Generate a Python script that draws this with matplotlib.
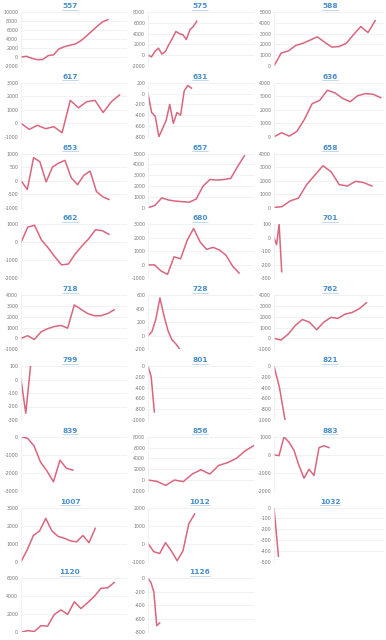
import numpy as np
import matplotlib
matplotlib.use('Agg')
import matplotlib.pyplot as plt
from matplotlib.lines import Line2D

plt.rcParams['axes.unicode_minus'] = False

# panel ids in reading order (3 per row)
ids = ['557', '575', '588', '617', '631', '636', '653', '657', '658',
       '662', '680', '701', '718', '728', '762', '799', '801', '821',
       '839', '856', '883', '1007', '1012', '1032', '1120', '1126']

s557 = [0, 150, -300, -600, -550, 300, 500, 1800, 2300, 2600, 2900, 3600, 4600, 5700, 6800, 7800, 8300]
s575 = [0, -300, 700, 1300, 200, 700, 2000, 3100, 4400, 4000, 3800, 2900, 4700, 5300, 6300]
s588 = [0, 1200, 1400, 1900, 2100, 2400, 2700, 2200, 1750, 1800, 2100, 2900, 3650, 3100, 4200]
s617 = [0, -450, -150, -400, -250, -700, 1700, 1150, 1600, 1700, 800, 1600, 2100]
s631 = [0, -350, -420, -800, -650, -500, -200, -550, -350, -400, 50, 150, 100]
s636 = [0, 300, 50, 400, 1300, 2450, 2700, 3450, 3250, 2850, 2600, 3050, 3200, 3150, 2900]
s653 = [0, -330, 850, 700, -50, 500, 650, 750, 100, -150, 200, 350, -400, -600, -700]
s657 = [0, 200, 900, 700, 600, 550, 500, 800, 2000, 2600, 2550, 2600, 2700, 3800, 4800]
s658 = [0, 80, 500, 700, 1700, 2400, 3100, 2650, 1700, 1600, 1950, 1850, 1600]
s662 = [0, 850, 950, 150, -300, -800, -1250, -1200, -650, -200, 200, 700, 650, 450]
s680 = [0, 0, -450, -700, 600, 450, 1800, 2700, 1700, 1150, 1300, 1100, 700, -100, -600]
s701 = [0, -50, 100, -250]
s718 = [0, 250, -100, 600, 900, 1100, 1200, 950, 3100, 2700, 2300, 2100, 2100, 2300, 2650]
s728 = [0, 60, 250, 560, 300, 80, -60, -120, -200]
s762 = [0, -150, 400, 1200, 1750, 1500, 800, 1500, 1950, 1850, 2250, 2400, 2750, 3300]
s799 = [0, -250, 100]
s801 = [0, -200, -850]
s821 = [0, -400, -1000]
s839 = [0, -80, -500, -1400, -1900, -2500, -1300, -1750, -1850]
s856 = [0, -250, -1000, 0, -300, 1100, 1900, 1100, 2700, 3200, 4000, 5400, 6400]
s883 = [0, -50, 1000, 700, 250, -600, -1300, -800, -1150, 400, 500, 400]
s1007 = [0, 650, 1450, 1700, 2400, 1700, 1400, 1300, 1150, 1100, 1450, 1050, 1850]
s1012 = [0, -450, -550, 50, -400, -950, -400, 1100, 1650]
s1032 = [0, -450]
s1120 = [0, 200, 100, 750, 700, 2000, 2500, 2000, 3400, 2650, 3300, 4000, 4900, 4950, 5550]
s1126 = [0, -60, -200, -700, -660]

series = [s557, s575, s588, s617, s631, s636, s653, s657, s658,
          s662, s680, s701, s718, s728, s762, s799, s801, s821,
          s839, s856, s883, s1007, s1012, s1032, s1120, s1126]

# share of the common time axis each series covers
spans = [0.82, 0.46, 0.92, 0.93, 0.41, 0.97, 0.83, 0.91, 0.89,
         0.83, 0.86, 0.07, 0.88, 0.30, 0.84, 0.09, 0.06, 0.10,
         0.49, 1.0, 0.50, 0.70, 0.44, 0.04, 0.88, 0.11]

# y tick range (low, high, step)
yr = [(-2000, 10000, 2000), (-2000, 8000, 2000), (0, 5000, 1000),
      (-1000, 3000, 1000), (-800, 200, 200), (0, 4000, 1000),
      (-1000, 1000, 500), (0, 5000, 1000), (0, 4000, 1000),
      (-2000, 1000, 1000), (-1000, 3000, 1000), (-300, 100, 100),
      (-1000, 4000, 1000), (-200, 600, 200), (-1000, 4000, 1000),
      (-300, 100, 100), (-1000, 0, 200), (-1000, 0, 200),
      (-3000, 0, 1000), (-2000, 8000, 2000), (-2000, 1000, 1000),
      (0, 3000, 1000), (-1000, 2000, 1000), (-500, 0, 100),
      (0, 6000, 2000), (-800, 0, 200)]

W, H = 386, 640
fig = plt.figure(figsize=(W / 100, H / 100), dpi=100)
fig.patch.set_facecolor('white')

lefts = [21, 148, 274]
rights = [127, 254, 384]
title_x = [70, 200, 330]
line_color = '#d9667f'
title_color = '#4a8fcc'

renderer = fig.canvas.get_renderer()
for k, name in enumerate(ids):
    row, col = k // 3, k % 3
    ty = 6 + 70.8 * row
    top = ty + 6
    bot = ty + 60
    l, r = lefts[col], rights[col]
    ax = fig.add_axes([l / W, 1 - bot / H, (r - l) / W, (bot - top) / H])
    v = series[k]
    x = np.linspace(0, spans[k], len(v))
    ax.plot(x, v, color=line_color, lw=1.1, solid_joinstyle='round')
    lo, hi, st = yr[k]
    ax.set_xlim(0, 1)
    ax.set_ylim(lo, hi)
    ax.set_yticks(np.arange(lo, hi + st, st))
    ax.set_xticks([])
    ax.grid(axis='y', color='#ebebeb', lw=0.5)
    for s in ['top', 'right', 'bottom']:
        ax.spines[s].set_visible(False)
    ax.spines['left'].set_color('#ececec')
    ax.spines['left'].set_linewidth(0.5)
    ax.tick_params(axis='y', labelsize=3.4, colors='#777777', length=0, pad=2)
    ax.set_facecolor('none')

    t = fig.text(title_x[col] / W, 1 - ty / H, name, ha='center', va='center',
                 fontsize=5.3, color=title_color, fontweight='bold')
    bb = t.get_window_extent(renderer)
    fig.add_artist(Line2D([bb.x0 / W, bb.x1 / W], [(bb.y0 - 0.5) / H] * 2,
                          transform=fig.transFigure, color=title_color, lw=0.4, alpha=0.6))

fig.savefig('out.png', dpi=100)
